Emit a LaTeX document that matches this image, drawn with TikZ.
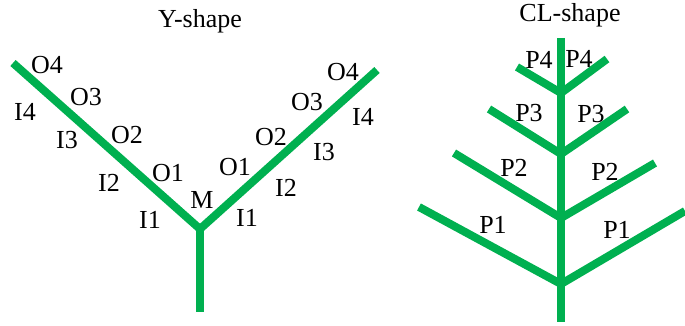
\documentclass[tikz,border=0pt]{standalone}
\usepackage{fontspec}
\setmainfont{Liberation Serif}
\usepackage{tikz}
\usetikzlibrary{positioning,calc}
\definecolor{Leaf}{HTML}{00B050}
\definecolor{Ink}{HTML}{000000}
\tikzset{
  every node/.append style={text=Ink},
  limb/.style={draw=Leaf, line width=8pt, line cap=butt},
  lbl/.style={inner sep=0pt, font=\fontsize{26}{31}\selectfont},
  ttl/.style={lbl, anchor=base},
}
\begin{document}
\begin{tikzpicture}[x=1pt, y=-1pt]
  \useasboundingbox (0,0) rectangle (685,326);
  % Y-shape
  \coordinate (M) at (200,229);
  \coordinate (yl) at (13,63);
  \coordinate (yr) at (377,70);
  \coordinate (yb) at (200,312);
  \draw[limb] (M)--(yl); \draw[limb] (M)--(yr); \draw[limb] (M)--(yb);
  \node[ttl] (ytitle) at (200,28) {Y-shape};
  \node[lbl] (mlbl) at (202,200) {M};
  \node[lbl] (lo1) at (168,173) {O1}; \node[lbl] (li1) at (150,220) {I1};
  \node[lbl] (lo2) at (127,135) {O2}; \node[lbl] (li2) at (109,183) {I2};
  \node[lbl] (lo3) at (86,97) {O3};   \node[lbl] (li3) at (67,140) {I3};
  \node[lbl] (lo4) at (47,65) {O4};   \node[lbl] (li4) at (25,112) {I4};
  \node[lbl] (ro1) at (235,167) {O1}; \node[lbl] (ri1) at (247,218) {I1};
  \node[lbl] (ro2) at (271,137) {O2}; \node[lbl] (ri2) at (286,188) {I2};
  \node[lbl] (ro3) at (307,102) {O3}; \node[lbl] (ri3) at (324,152) {I3};
  \node[lbl] (ro4) at (343,72) {O4};  \node[lbl] (ri4) at (363,117) {I4};
  % CL-shape
  \coordinate (j1) at (561,284); \coordinate (j2) at (561,218);
  \coordinate (j3) at (561,154); \coordinate (j4) at (561,93);
  \coordinate (a1) at (419,207); \coordinate (b1) at (685,211);
  \coordinate (a2) at (454,153); \coordinate (b2) at (655,163);
  \coordinate (a3) at (489,109); \coordinate (b3) at (627,109);
  \coordinate (a4) at (517,67);  \coordinate (b4) at (607,59);
  \draw[limb] (j1)--(a1); \draw[limb] (j1)--(b1);
  \draw[limb] (j2)--(a2); \draw[limb] (j2)--(b2);
  \draw[limb] (j3)--(a3); \draw[limb] (j3)--(b3);
  \draw[limb] (j4)--(a4); \draw[limb] (j4)--(b4);
  \coordinate (ctop) at (561,38); \coordinate (cbot) at (561,322);
  \draw[limb] (ctop)--(cbot);
  \node[ttl] (cltitle) at (570,22) {CL-shape};
  \node[lbl] (pl1) at (493,225) {P1}; \node[lbl] (pr1) at (617,230) {P1};
  \node[lbl] (pl2) at (514,168) {P2}; \node[lbl] (pr2) at (605,172) {P2};
  \node[lbl] (pl3) at (529,113) {P3}; \node[lbl] (pr3) at (591,114) {P3};
  \node[lbl] (pl4) at (539,60) {P4};  \node[lbl] (pr4) at (579,59) {P4};
\end{tikzpicture}
\end{document}
